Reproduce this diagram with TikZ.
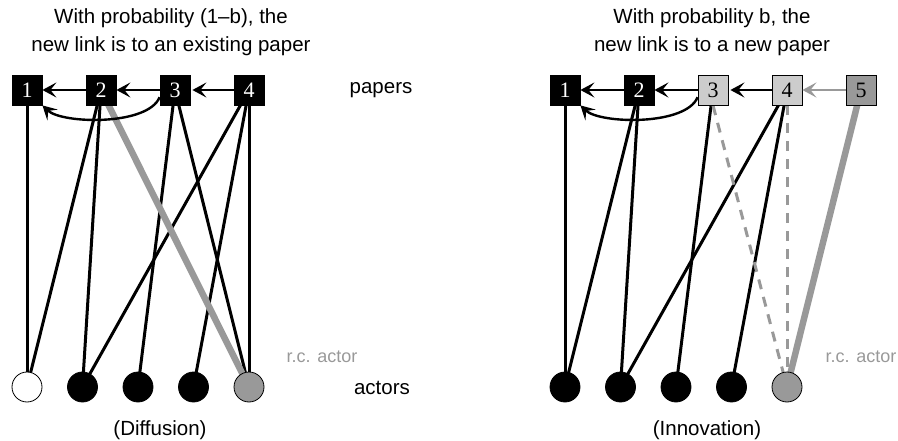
\documentclass[tikz,border=0pt]{standalone}
\usepackage{fontspec}
\setmainfont{Liberation Serif}
\setsansfont{Liberation Sans}
\usetikzlibrary{arrows.meta,backgrounds}
\definecolor{rcgray}{HTML}{999999}
\definecolor{newgray}{HTML}{CCCCCC}
\tikzset{
  paperbox/.style={draw=black, line width=0.8pt, fill=black, text=white,
    minimum size=30pt, inner sep=0pt, font=\fontsize{22}{22}\selectfont},
  newpaper/.style={paperbox, fill=newgray, text=black},
  rcpaper/.style={paperbox, fill=rcgray, text=black},
  actor/.style={circle, draw=black, line width=0.8pt, fill=black,
    minimum size=30pt, inner sep=0pt},
  freshactor/.style={actor, fill=white},
  rcactor/.style={actor, fill=rcgray},
  label/.style={font=\sffamily\fontsize{20.5}{28.5}\selectfont, align=center, inner sep=0pt},
  rclabel/.style={font=\sffamily\fontsize{18}{18}\selectfont, text=rcgray, inner sep=0pt},
  tie/.style={line width=3pt, black},
  rctie/.style={line width=6.5pt, rcgray},
  droptie/.style={line width=3pt, rcgray, dash pattern=on 10pt off 8pt},
  cite/.style={line width=2.4pt, -{Stealth[length=14pt,width=15pt,inset=6pt]}},
}
\begin{document}
\begin{tikzpicture}[x=1pt, y=-1pt]
\useasboundingbox (0,0) rectangle (898,441);

% ---------- Diffusion ----------
\node[label] (t1) at (171,32) {With probability (1--b), the\\new link is to an existing paper};
\node[paperbox] (p1) at (27,90) {1};
\node[paperbox] (p2) at (101,90) {2};
\node[paperbox] (p3) at (175,90) {3};
\node[paperbox] (p4) at (249,90) {4};
\node[freshactor] (a1) at (27,387) {};
\node[actor] (a2) at (82.5,387) {};
\node[actor] (a3) at (138,387) {};
\node[actor] (a4) at (193.5,387) {};
\node[rcactor] (a5) at (249,387) {};
\node[label] (lp) at (381,90) {papers};
\node[label] (la) at (382,388) {actors};
\node[rclabel] (lr) at (322,357) {r.c. actor};
\node[label] (ld) at (160,430) {(Diffusion)};

\begin{pgfonlayer}{background}
  \draw[tie] (p1.center) -- (a1.center);
  \draw[tie] (p2.center) -- (a1.center);
  \draw[tie] (p2.center) -- (a2.center);
  \draw[tie] (p3.center) -- (a3.center);
  \draw[tie] (p3.center) -- (a5.center);
  \draw[tie] (p4.center) -- (a2.center);
  \draw[tie] (p4.center) -- (a4.center);
  \draw[tie] (p4.center) -- (a5.center);
  \draw[rctie] (p2.center) -- (a5.center);
\end{pgfonlayer}
\draw[cite] (p2) -- (p1);
\draw[cite] (p3) -- (p2);
\draw[cite, shorten >=2pt] (p4) -- (p3);
\draw[cite] (p3.205) .. controls (148,126) and (62,124) .. (p1.south east);

% ---------- Innovation ----------
\node[label] (t2) at (712,32) {With probability b, the\\new link is to a new paper};
\node[paperbox] (q1) at (565,90) {1};
\node[paperbox] (q2) at (639,90) {2};
\node[newpaper] (q3) at (713,90) {3};
\node[newpaper] (q4) at (787,90) {4};
\node[rcpaper] (q5) at (861,90) {5};
\node[actor] (b1) at (565,387) {};
\node[actor] (b2) at (620.5,387) {};
\node[actor] (b3) at (676,387) {};
\node[actor] (b4) at (731.5,387) {};
\node[rcactor] (b5) at (787,387) {};
\node[rclabel] (mr) at (861,357) {r.c. actor};
\node[label] (li) at (707,430) {(Innovation)};

\begin{pgfonlayer}{background}
  \draw[tie] (q1.center) -- (b1.center);
  \draw[tie] (q2.center) -- (b1.center);
  \draw[tie] (q2.center) -- (b2.center);
  \draw[tie] (q3.center) -- (b3.center);
  \draw[tie] (q4.center) -- (b2.center);
  \draw[tie] (q4.center) -- (b4.center);
  \draw[droptie] (q3.south) -- (b5.center);
  \draw[droptie] (q4.south) -- (b5.center);
  \draw[rctie] (q5.center) -- (b5.center);
\end{pgfonlayer}
\draw[cite] (q2) -- (q1);
\draw[cite] (q3) -- (q2);
\draw[cite, shorten >=2pt] (q4) -- (q3);
\draw[cite, rcgray] (q5) -- (q4);
\draw[cite] (q3.205) .. controls (686,126) and (600,124) .. (q1.south east);
\end{tikzpicture}
\end{document}
